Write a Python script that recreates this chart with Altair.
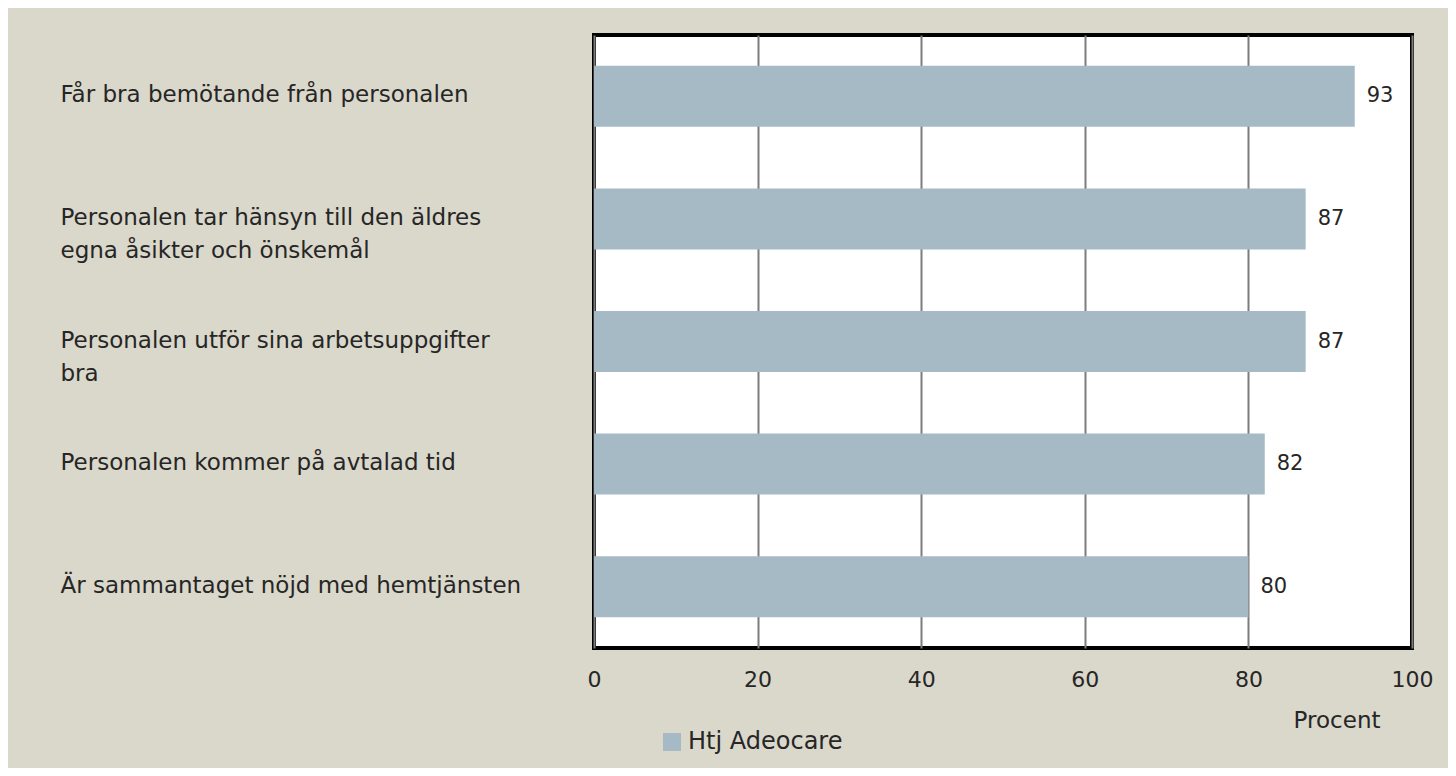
import altair as alt
import pandas as pd

categories = [
    "Får bra bemötande från personalen",
    "Personalen tar hänsyn till den äldres\negna åsikter och önskemål",
    "Personalen utför sina arbetsuppgifter\nbra",
    "Personalen kommer på avtalad tid",
    "Är sammantaget nöjd med hemtjänsten",
]
values = [93, 87, 87, 82, 80]
series = ["Htj Adeocare"] * len(values)
x_ticks = [0, 20, 40, 60, 80, 100]

df = pd.DataFrame({"fraga": categories, "procent": values, "serie": series})

FONT = "DejaVu Sans"
TXT = "#262626"

y_enc = alt.Y(
    "fraga:N",
    sort=None,
    scale=alt.Scale(paddingInner=0.5, paddingOuter=0.25),
    axis=alt.Axis(
        title=None,
        labelExpr="split(datum.label, '\\n')",
        labelAlign="left",
        labelBaseline="top",
        labelOffset=-12,
        labelPadding=534,
        labelLimit=0,
        labelFontSize=23,
        labelFont=FONT,
        labelColor=TXT,
        labelLineHeight=33,
        ticks=False,
        tickSize=0,
        domain=False,
        grid=False,
    ),
)

x_enc = alt.X(
    "procent:Q",
    scale=alt.Scale(domain=[0, 100], nice=False),
    axis=alt.Axis(
        values=x_ticks,
        title="Procent",
        titleX=786,
        titleY=72,
        titleAlign="right",
        titleBaseline="middle",
        titleFontWeight="normal",
        titleFontSize=23,
        titleFont=FONT,
        titleColor=TXT,
        labelFontSize=22,
        labelFont=FONT,
        labelColor=TXT,
        labelPadding=21,
        labelFlush=False,
        ticks=False,
        tickSize=0,
        domain=False,
        grid=True,
        gridColor="#7d7d7d",
        gridWidth=2,
        gridOpacity=1,
    ),
)

bars = alt.Chart(df).mark_bar(size=61).encode(
    x=x_enc,
    y=y_enc,
    color=alt.Color(
        "serie:N",
        scale=alt.Scale(range=["#a6bac5"]),
        legend=alt.Legend(
            title=None,
            orient="none",
            legendX=66,
            legendY=695,
            padding=0,
            symbolType="square",
            symbolSize=324,
            symbolStrokeWidth=0,
            labelFontSize=24,
            labelFont=FONT,
            labelColor=TXT,
            labelOffset=4,
            labelLimit=0,
        ),
    ),
)

labels = alt.Chart(df).mark_text(
    align="left", baseline="middle", dx=12, fontSize=21, font=FONT, color=TXT
).encode(
    x="procent:Q",
    y=alt.Y("fraga:N", sort=None),
    text=alt.Text("procent:Q", format="d"),
)

chart = (
    alt.layer(bars, labels)
    .properties(
        width=818,
        height=613,
        autosize=alt.AutoSizeParams(type="none"),
        padding={"left": 586, "top": 27, "right": 36, "bottom": 120},
        background="#dad7cb",
    )
    .configure_view(stroke="#000000", strokeWidth=4, fill="#ffffff")
)

chart.save("out.html", embed_options={"renderer": "svg", "actions": False})
